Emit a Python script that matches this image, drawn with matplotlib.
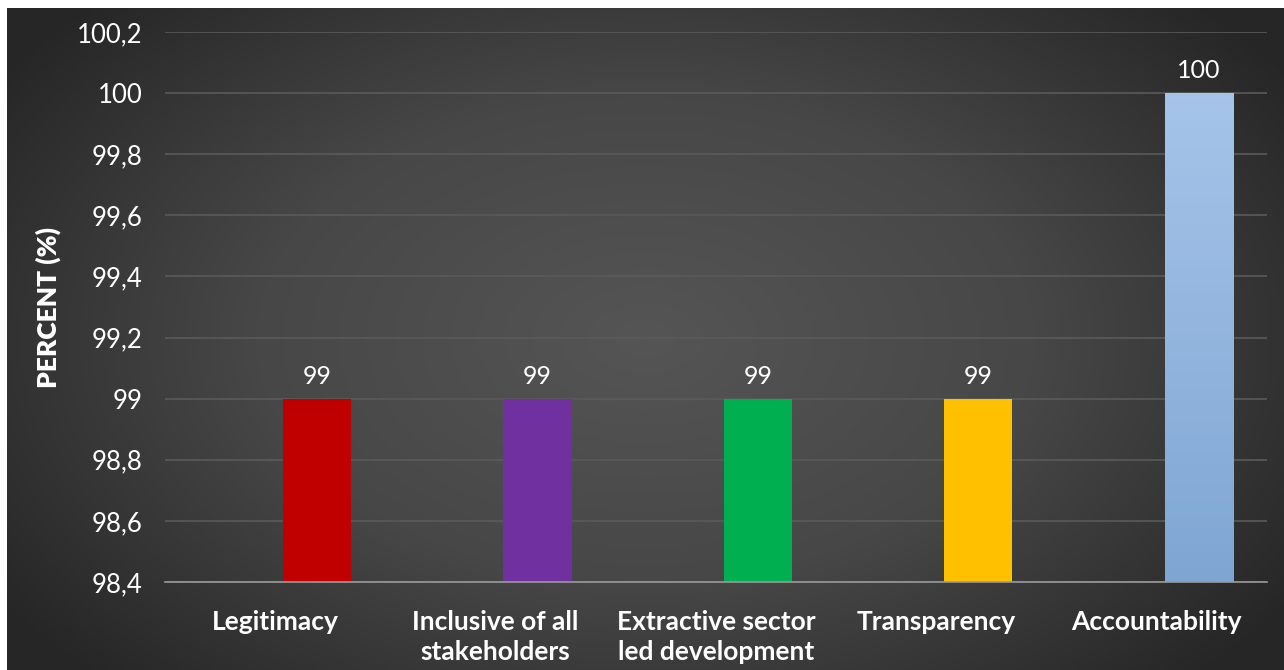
import numpy as np
import matplotlib.pyplot as plt
from matplotlib.colors import LinearSegmentedColormap

# Datos del grafico
categorias = ["Legitimacy", "Inclusive of all\nstakeholders", "Extractive sector\nled development",
              "Transparency", "Accountability"]
valores = [99, 99, 99, 99, 100]
colores = ["#C00000", "#7030A0", "#00B050", "#FFC000", "#93B4DE"]
ticks_y = [98.4, 98.6, 98.8, 99.0, 99.2, 99.4, 99.6, 99.8, 100.0, 100.2]

plt.rcParams['font.family'] = ['Lato', 'DejaVu Sans']

fig = plt.figure(figsize=(12.84, 6.70), dpi=100)
fig.patch.set_facecolor("white")

# Fondo con degradado radial
bg = fig.add_axes([7 / 1284, 0, 1 - 7 / 1284, 1 - 8 / 670])
bg.set_axis_off()
yy, xx = np.mgrid[-1:1:300j, -1:1:600j]
r = np.sqrt((xx * 0.9) ** 2 + (yy * 0.75) ** 2)
r = np.clip(r / 1.1, 0, 1)
cmap_bg = LinearSegmentedColormap.from_list("bg", ["#555555", "#474747", "#262626"])
bg.imshow(r, cmap=cmap_bg, aspect="auto", extent=[0, 1, 0, 1], vmin=0, vmax=1)
bg.set_xlim(0, 1)
bg.set_ylim(0, 1)

ax = fig.add_axes([165 / 1284, 1 - 582 / 670, 1102 / 1284, 550 / 670])
ax.patch.set_alpha(0)

x = np.arange(len(categorias))
desfase = 0.19
ancho = 0.31
base = ticks_y[0]
barras = ax.bar(x + desfase, np.array(valores) - base, bottom=base, width=ancho,
                color=colores, zorder=3)

# degradado de la ultima barra
grad = LinearSegmentedColormap.from_list("azul", ["#7FA6D3", "#A6C4E9"])
ult = barras[-1]
ax.imshow(np.linspace(0, 1, 100).reshape(-1, 1), cmap=grad, origin="lower", aspect="auto",
          extent=[ult.get_x(), ult.get_x() + ult.get_width(), base, valores[-1]], zorder=4)

for xi, v in zip(x, valores):
    ax.text(xi + desfase, v + 0.035, f"{v}", ha="center", va="bottom", color="white", fontsize=18)

ax.set_xlim(-0.5, len(categorias) - 0.5)
ax.set_ylim(ticks_y[0], ticks_y[-1])
ax.set_yticks(ticks_y)
ax.set_yticklabels([f"{t:g}".replace(".", ",") for t in ticks_y], color="white", fontsize=18.5)
ax.set_xticks(x)
ax.set_xticklabels(categorias, color="white", fontsize=19, fontweight="bold", linespacing=1.3)
ax.tick_params(axis="y", length=0, pad=16)
ax.tick_params(axis="x", length=0, pad=20)
ax.grid(axis="y", color="#5a5a5a", linewidth=1.2, zorder=0)
for s in ["top", "right", "left"]:
    ax.spines[s].set_visible(False)
ax.spines["bottom"].set_color("#9a9a9a")
ax.spines["bottom"].set_linewidth(1.2)
ax.spines["bottom"].set_zorder(5)

ax.set_ylabel("PERCENT (%)", color="white", fontsize=19, fontweight="heavy", labelpad=12)

plt.savefig("out.png", dpi=100)
